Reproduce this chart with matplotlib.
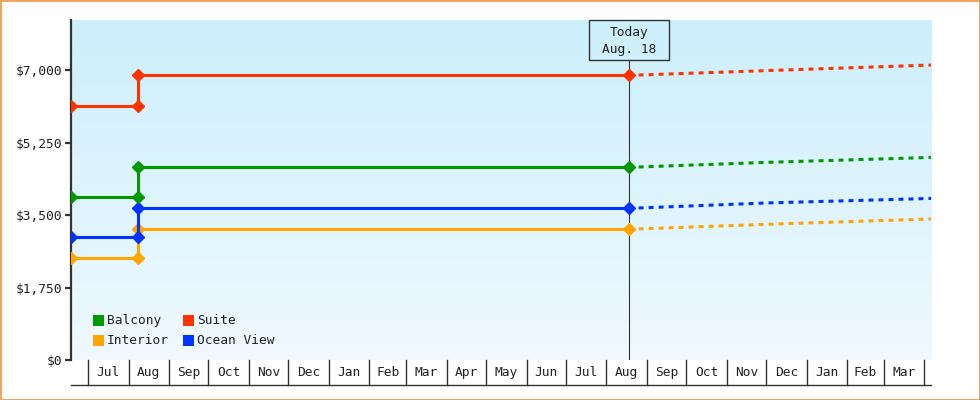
import matplotlib
matplotlib.use("Agg")
import matplotlib.pyplot as plt
import matplotlib.dates as mdates
from matplotlib.patches import Rectangle
from matplotlib.transforms import blended_transform_factory
import numpy as np
import datetime as dt

# cabin types and prices
cabins = ["Balcony", "Interior", "Suite", "Ocean View"]
colors = {"Balcony": "#009900", "Interior": "#ffa500",
          "Suite": "#ff3300", "Ocean View": "#0033ff"}

hist_dates = [dt.date(2017, 6, 18), dt.date(2017, 8, 8),
              dt.date(2017, 8, 8), dt.date(2018, 8, 18)]
proj_dates = [dt.date(2018, 8, 18), dt.date(2018, 12, 1), dt.date(2019, 4, 6)]

hist = {
    "Suite":      [6140, 6140, 6870, 6870],
    "Balcony":    [3945, 3945, 4650, 4650],
    "Ocean View": [2960, 2960, 3660, 3660],
    "Interior":   [2455, 2455, 3155, 3155],
}
proj = {
    "Suite":      [6870, 6985, 7120],
    "Balcony":    [4650, 4770, 4890],
    "Ocean View": [3660, 3790, 3900],
    "Interior":   [3155, 3275, 3405],
}

y_ticks = [0, 1750, 3500, 5250, 7000]
today = dt.date(2018, 8, 18)
today_label = "Today\nAug. 18"

x_start = dt.date(2017, 6, 18)
x_end = dt.date(2019, 4, 6)

FONT = "DejaVu Sans Mono"
TXT = "#222222"

fig = plt.figure(figsize=(9.8, 4), dpi=100)
ax = fig.add_axes([71 / 980, 40 / 400, 860 / 980, 340 / 400])

# background gradient
grad = np.linspace(0, 1, 256).reshape(-1, 1)
top = np.array([204, 239, 252]) / 255
bot = np.array([240, 249, 255]) / 255
img = top + (bot - top) * grad[:, :, None] * np.ones((1, 1, 3))
ax.imshow(img[:, :, 0, :] if img.ndim == 4 else img, extent=[0, 1, 0, 1],
          transform=ax.transAxes, aspect="auto", zorder=0)

ax.set_xlim(mdates.date2num(x_start), mdates.date2num(x_end))
ax.set_ylim(0, 8207)

lw = 2.2
dash = 3.6 / lw
order = ["Interior", "Ocean View", "Balcony", "Suite"]
for name in order:
    c = colors[name]
    ax.plot(hist_dates, hist[name], color=c, lw=lw, marker="D", ms=6,
            zorder=3, solid_joinstyle="miter")
    ax.plot(proj_dates, proj[name], color=c, lw=lw,
            linestyle=(0, (dash, dash)), zorder=3)

# today marker
tnum = mdates.date2num(today)
ax.plot([tnum, tnum], [0, 8207 * (1 - 40 / 340)], color="#333333", lw=0.8, zorder=2)
xl = ax.get_xlim()
tfrac = (tnum - xl[0]) / (xl[1] - xl[0])
bw = 80 / 860
ax.add_patch(Rectangle((tfrac - bw / 2, 1 - 40 / 340), bw, 40 / 340,
                       transform=ax.transAxes, fill=False, ec="#333333",
                       lw=1.0, zorder=4, clip_on=False))
ax.text(tfrac, 1 - 21 / 340, today_label, transform=ax.transAxes, ha="center",
        va="center", fontsize=9.3, family=FONT, color=TXT, linespacing=1.35,
        zorder=5)

# axes styling
for s in ["top", "right", "bottom"]:
    ax.spines[s].set_visible(False)
ax.spines["left"].set_color("#333333")
ax.spines["left"].set_linewidth(1.6)
ax.set_xticks([])
ax.set_yticks(y_ticks)
ax.set_yticklabels(["${:,}".format(v) for v in y_ticks], family=FONT,
                   fontsize=9.3, color=TXT)
ax.tick_params(axis="y", length=4, width=1.6, color="#333333", pad=2)

# month band below plot
tr = blended_transform_factory(ax.transData, ax.transAxes)
band = -25 / 340
months = []
d = dt.date(2017, 7, 1)
while d <= x_end:
    months.append(d)
    d = dt.date(d.year + (d.month == 12), d.month % 12 + 1, 1)
for i, m in enumerate(months):
    mx = mdates.date2num(m)
    ax.plot([mx, mx], [0, band], transform=tr, color="#333333", lw=1.0,
            clip_on=False)
    if i + 1 < len(months):
        cx = (mx + mdates.date2num(months[i + 1])) / 2
        ax.text(cx, band / 2, m.strftime("%b"), transform=tr, ha="center",
                va="center", fontsize=9.3, family=FONT, color=TXT)
ax.plot([0, 1], [band, band], transform=ax.transAxes, color="#333333",
        lw=1.0, clip_on=False)

# legend
def px(x, y):
    return ((x - 71) / 860, (360 - y) / 340)

legend_pos = {"Balcony": (93, 320.5), "Suite": (183, 320.5),
              "Interior": (93, 340.5), "Ocean View": (183, 340.5)}
for name, (lx, ly) in legend_pos.items():
    x0, y0 = px(lx, ly + 5.5)
    ax.add_patch(Rectangle((x0, y0), 11 / 860, 11 / 340, transform=ax.transAxes,
                           color=colors[name], lw=0, zorder=5))
    tx, ty = px(lx + 14, ly)
    ax.text(tx, ty, name, transform=ax.transAxes, ha="left", va="center",
            fontsize=9.3, family=FONT, color=TXT, zorder=5)

# outer border
fig.patches.append(Rectangle((0, 0), 1, 1, transform=fig.transFigure,
                             fill=False, ec="#e8a862", lw=2.2))

fig.savefig("out.png", dpi=100)
